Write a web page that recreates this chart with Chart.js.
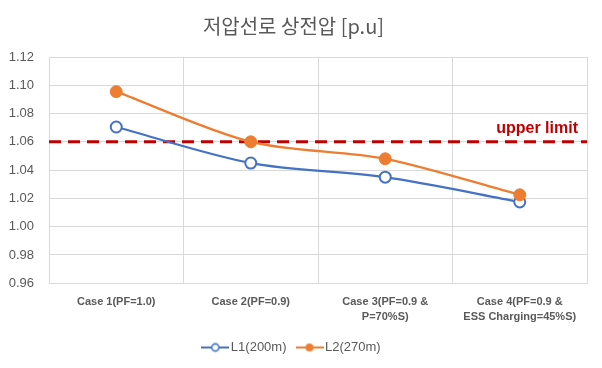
<!DOCTYPE html>
<html>
<head>
<meta charset="utf-8">
<script src="https://cdn.jsdelivr.net/npm/chart.js@4"></script>
<style>
  html, body { margin: 0; padding: 0; background: #fff; }
  #wrap { width: 602px; height: 368px; }
</style>
</head>
<body>
<div id="wrap"><canvas id="voltage-chart"></canvas></div>
<script>
const caseLabels = [
  ["Case 1(PF=1.0)"],
  ["Case 2(PF=0.9)"],
  ["Case 3(PF=0.9 &", "P=70%S)"],
  ["Case 4(PF=0.9 &", "ESS Charging=45%S)"],
];
const l1Values = [1.0705, 1.045, 1.035, 1.0175];
const l2Values = [1.0955, 1.06, 1.048, 1.0225];
const yMin = 0.96;
const yMax = 1.12;
const yStep = 0.02;
const upperLimit = 1.06;
const upperLimitText = "upper limit";

const BLUE = "#4472C4";
const ORANGE = "#ED7D31";
const GRAY = "#595959";
const GRID = "#D9D9D9";

// small line + marker icon for the legend, Excel style
function makeLegendIcon(color, filled) {
  const c = document.createElement("canvas");
  c.width = 28;
  c.height = 12;
  const g = c.getContext("2d");
  g.strokeStyle = color;
  g.lineWidth = 2;
  g.beginPath();
  g.moveTo(0, 6);
  g.lineTo(28, 6);
  g.stroke();
  g.beginPath();
  g.arc(14, 6, filled ? 4 : 3.6, 0, Math.PI * 2);
  g.fillStyle = filled ? color : "#fff";
  g.fill();
  if (!filled) {
    g.lineWidth = 1.6;
    g.stroke();
  }
  return c;
}

// dashed limit line with its label
const upperLimitLine = {
  id: "upperLimitLine",
  beforeDatasetsDraw(chart) {
    const { ctx, chartArea, scales } = chart;
    const y = scales.y.getPixelForValue(upperLimit);
    ctx.save();
    ctx.strokeStyle = "#C00000";
    ctx.lineWidth = 3;
    ctx.setLineDash([12, 7]);
    ctx.beginPath();
    ctx.moveTo(chartArea.left, y);
    ctx.lineTo(chartArea.right, y);
    ctx.stroke();
    ctx.setLineDash([]);
    ctx.fillStyle = "#C00000";
    ctx.font = "bold 16px 'Liberation Sans', sans-serif";
    ctx.textAlign = "right";
    ctx.textBaseline = "alphabetic";
    ctx.fillText(upperLimitText, chartArea.right - 9, y - 9);
    ctx.restore();
  },
};

const icons = [makeLegendIcon(BLUE, false), makeLegendIcon(ORANGE, true)];

const ctx = document.getElementById("voltage-chart").getContext("2d");
new Chart(ctx, {
  type: "line",
  data: {
    labels: caseLabels,
    datasets: [
      {
        label: "L1(200m)",
        data: l1Values,
        borderColor: BLUE,
        borderWidth: 2.25,
        tension: 0.3,
        pointRadius: 5.5,
        pointBackgroundColor: "#fff",
        pointBorderColor: BLUE,
        pointBorderWidth: 2,
        order: 1,
      },
      {
        label: "L2(270m)",
        data: l2Values,
        borderColor: ORANGE,
        borderWidth: 2.25,
        tension: 0.3,
        pointRadius: 6,
        pointBackgroundColor: ORANGE,
        pointBorderColor: ORANGE,
        pointBorderWidth: 1,
        order: 0,
      },
    ],
  },
  options: {
    responsive: true,
    maintainAspectRatio: false,
    animation: false,
    layout: { padding: { left: 0, right: 15, bottom: 4 } },
    plugins: {
      tooltip: { enabled: false },
      title: {
        display: true,
        text: "저압선로 상전압 [p.u]",
        color: GRAY,
        font: { family: "'Noto Sans CJK KR'", size: 20, weight: "normal", lineHeight: 1.2 },
        padding: { top: 14, bottom: 19 },
      },
      legend: {
        position: "bottom",
        labels: {
          color: GRAY,
          font: { family: "'Liberation Sans'", size: 13 },
          usePointStyle: true,
          pointStyleWidth: 18,
          padding: 14,
          sort: (a, b) => a.datasetIndex - b.datasetIndex,
          generateLabels(chart) {
            const items = Chart.defaults.plugins.legend.labels.generateLabels(chart);
            items.forEach((it) => {
              it.pointStyle = icons[it.datasetIndex];
            });
            return items;
          },
        },
      },
    },
    scales: {
      x: {
        offset: true,
        grid: { color: GRID, drawTicks: false, offset: true },
        border: { color: GRID },
        afterFit(scale) {
          scale.height = scale.height - 9;
        },
        ticks: {
          color: GRAY,
          font: { family: "'Liberation Sans'", size: 11, weight: "bold", lineHeight: 1.4 },
          padding: 11,
          maxRotation: 0,
          autoSkip: false,
        },
      },
      y: {
        min: yMin,
        max: yMax,
        grid: { color: GRID, drawTicks: false },
        border: { color: GRID },
        afterFit(scale) {
          scale.width = 49;
        },
        ticks: {
          stepSize: yStep,
          color: GRAY,
          font: { family: "'Liberation Sans'", size: 13 },
          padding: 15,
          callback: (v) => v.toFixed(2),
        },
      },
    },
  },
  plugins: [upperLimitLine],
});
</script>
</body>
</html>
